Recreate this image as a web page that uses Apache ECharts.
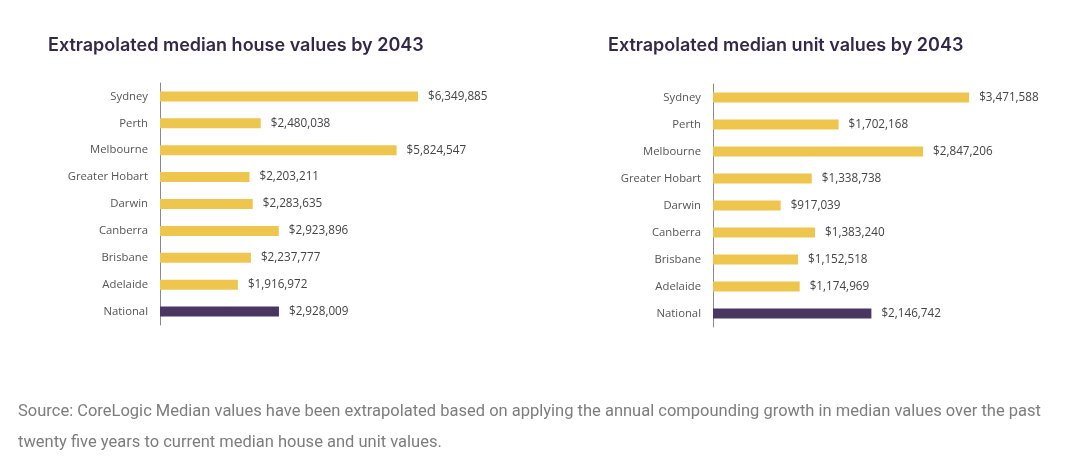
<!DOCTYPE html>
<html><head><meta charset="utf-8">
<script src="https://cdn.jsdelivr.net/npm/echarts@6/dist/echarts.min.js"></script>
<style>html,body{margin:0;padding:0;background:#fff}#c{width:1080px;height:471px}</style>
</head><body><div id="c"></div>
<script>
const categories = ['Sydney','Perth','Melbourne','Greater Hobart','Darwin','Canberra','Brisbane','Adelaide','National'];
const houseValues = [6349885,2480038,5824547,2203211,2283635,2923896,2237777,1916972,2928009];
const unitValues = [3471588,1702168,2847206,1338738,917039,1383240,1152518,1174969,2146742];
const titles = ['Extrapolated median house values by 2043','Extrapolated median unit values by 2043'];
const sourceLines = ['Source: CoreLogic Median values have been extrapolated based on applying the annual compounding growth in median values over the past','twenty five years to current median house and unit values.'];

const YELLOW = '#EEC64E', PURPLE = '#4A3660';
const fmt = v => '$' + v.toLocaleString('en-US');
function colored(vals){
  return vals.map((v,i)=>({value:v,itemStyle:{color: categories[i]==='National'?PURPLE:YELLOW}}));
}
const chart = echarts.init(document.getElementById('c'));
const labelFont = "'Open Sans', sans-serif";
const yAxisCommon = {
  type:'category', data:categories, inverse:true,
  axisLine:{show:true,lineStyle:{color:'#8a8a8a',width:1}},
  axisTick:{show:false},
  axisLabel:{color:'#555',fontSize:11.3,fontFamily:labelFont,margin:12}
};
const xAxisCommon = {type:'value', min:0, show:false, splitLine:{show:false}};
const seriesCommon = {
  type:'bar', barWidth:10,
  label:{show:true,position:'right',distance:10,color:'#444',fontSize:11.7,fontFamily:labelFont,formatter:p=>fmt(p.value)}
};
const titleStyle = {color:'#33284a',fontSize:18,fontWeight:600,fontFamily:'Inter, sans-serif'};
chart.setOption({
  animation:false,
  title:[
    {text:titles[0],left:43,top:32,textStyle:titleStyle},
    {text:titles[1],left:603,top:32,textStyle:titleStyle}
  ],
  grid:[
    {left:160,top:83,width:325,height:242},
    {left:713,top:84,width:332,height:243}
  ],
  xAxis:[
    Object.assign({gridIndex:0,max:8000000},xAxisCommon),
    Object.assign({gridIndex:1,max:4500000},xAxisCommon)
  ],
  yAxis:[
    Object.assign({gridIndex:0},yAxisCommon),
    Object.assign({gridIndex:1},yAxisCommon)
  ],
  series:[
    Object.assign({xAxisIndex:0,yAxisIndex:0,data:colored(houseValues)},seriesCommon),
    Object.assign({xAxisIndex:1,yAxisIndex:1,data:colored(unitValues)},seriesCommon)
  ],
  graphic:[
    {type:'text',left:18,top:403,style:{text:sourceLines[0],fill:'#7d7d7d',font:"16.5px Roboto, sans-serif"}},
    {type:'text',left:18,top:434,style:{text:sourceLines[1],fill:'#7d7d7d',font:"16.5px Roboto, sans-serif"}}
  ]
});
</script></body></html>
